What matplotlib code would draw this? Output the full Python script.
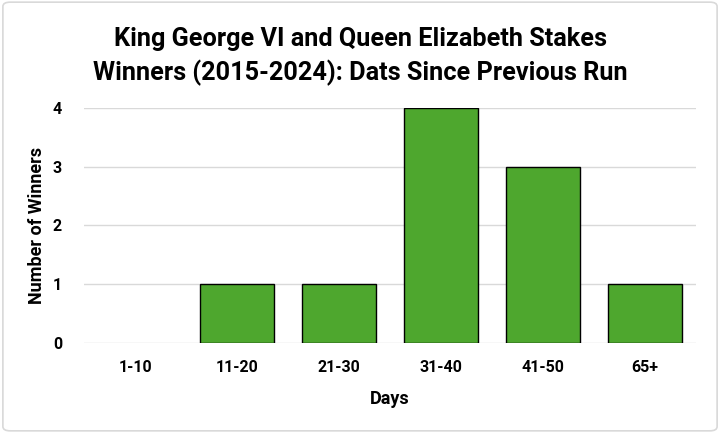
import matplotlib.pyplot as plt
from matplotlib.patches import FancyBboxPatch

categories = ["1-10", "11-20", "21-30", "31-40", "41-50", "65+"]
winners = [0, 1, 1, 4, 3, 1]

plt.rcParams['font.family'] = ['Roboto', 'DejaVu Sans']

fig = plt.figure(figsize=(7.2, 4.33), dpi=100)
ax = fig.add_axes([0.117, 0.208, 0.85, 0.543])

# zero bars get no outline so they don't leave a line on the baseline
edges = ["black" if w > 0 else "none" for w in winners]
ax.bar(categories, winners, width=0.73, color="#4ea72e", edgecolor=edges, linewidth=1, zorder=3)
ax.set_ylim(0, 4)
ax.set_xlim(-0.5, len(categories) - 0.5)
ax.set_yticks([0, 1, 2, 3, 4])
ax.grid(axis="y", color="#d9d9d9", linewidth=1, zorder=0)
for s in ax.spines.values():
    s.set_visible(False)
ax.tick_params(length=0, labelsize=11.5, pad=12)
for lab in ax.get_xticklabels() + ax.get_yticklabels():
    lab.set_fontweight("bold")
ax.tick_params(axis="y", pad=16)

ax.set_xlabel("Days", fontsize=13, fontweight="bold", labelpad=11)
ax.set_ylabel("Number of Winners", fontsize=13, fontweight="bold", labelpad=5)

fig.text(0.5, 0.869, "King George VI and Queen Elizabeth Stakes\nWinners (2015-2024): Dats Since Previous Run",
         ha="center", va="center", fontsize=18.2, fontweight="bold", linespacing=1.4)

border = FancyBboxPatch((0.004, 0.005), 0.992, 0.99, boxstyle="round,pad=0,rounding_size=0.01",
                        transform=fig.transFigure, fill=False, edgecolor="#d9d9d9", linewidth=1.2)
fig.patches.append(border)

fig.savefig("out.png", dpi=100)
